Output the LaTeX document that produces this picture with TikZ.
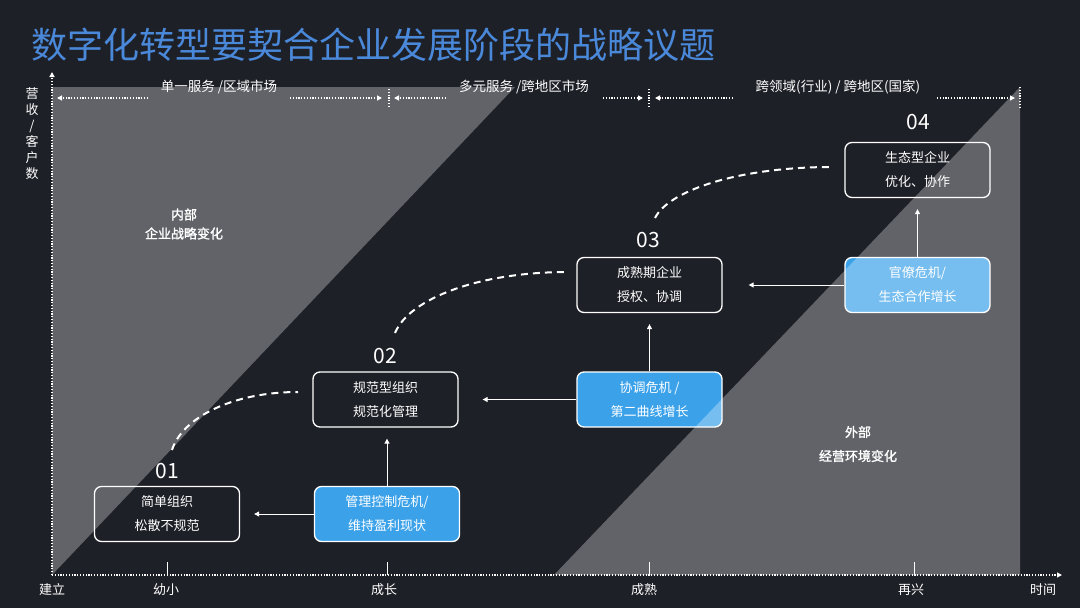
\documentclass[tikz,border=0pt]{standalone}
\usepackage{fontspec}
\setmainfont{Noto Sans CJK SC}
\newfontfamily\boldcjk{Noto Sans CJK SC}[FakeBold=1.5]
\usepackage{tikz}
\usetikzlibrary{positioning,arrows.meta,calc}
\definecolor{bgDark}{HTML}{1E2027}
\definecolor{titleBlue}{HTML}{4A88DA}
\definecolor{crisisBlue}{HTML}{3BA2EA}

\begin{document}
\begin{tikzpicture}[
  x=1pt, y=-1pt,
  every node/.style={text=white},
  stage/.style={rectangle, rounded corners=7pt, draw=white, line width=1.3pt,
                minimum width=145pt, minimum height=55pt, align=center,
                font=\fontsize{13}{24}\selectfont},
  crisis/.style={stage, fill=crisisBlue},
  stagenum/.style={font=\fontsize{21}{21}\selectfont},
  ticklabel/.style={font=\fontsize{13}{13}\selectfont},
  spanlabel/.style={font=\fontsize{13.5}{13.5}\selectfont},
  flow/.style={-{Triangle[length=5pt,width=5pt]}, white, line width=1pt},
  growth/.style={white, line width=2pt, dash pattern=on 7pt off 5pt},
  dotline/.style={white, line width=1.6pt, dash pattern=on 1.2pt off 1.6pt},
  dotflow/.style={dotline, -{Triangle[length=5pt,width=5pt]}},
  >={Triangle[length=5pt,width=5pt]}
]
  % background and frame
  \fill[bgDark] (0,0) rectangle (1080,608);
  \useasboundingbox (0,0) rectangle (1080,608);

  \node[anchor=west, text=titleBlue, font=\fontsize{36}{36}\selectfont] (title) at (28,45)
    {数字化转型要契合企业发展阶段的战略议题};

  % axes
  \coordinate (origin) at (52,575);
  \coordinate (ytop) at (52,72);
  \coordinate (xend) at (1062,575);
  \draw[dotflow] (origin) -- (ytop);
  \draw[dotflow] (origin) -- (xend);
  \node[font=\fontsize{13}{16}\selectfont, align=center] (ylabel) at (32,134)
    {营\\收\\/\\客\\户\\数};

  \foreach \x in {167,387,649,914}
    \draw[white, line width=1pt] (\x,575) -- (\x,562);
  \node[ticklabel] (t0) at (52,590) {建立};
  \node[ticklabel] (t1) at (166,590) {幼小};
  \node[ticklabel] (t2) at (384,590) {成长};
  \node[ticklabel] (t3) at (644,590) {成熟};
  \node[ticklabel] (t4) at (911,590) {再兴};
  \node[ticklabel] (t5) at (1043,590) {时间};

  % market spans
  \node[spanlabel] (span1) at (219,87) {单一服务 /区域市场};
  \node[spanlabel] (span2) at (524,87) {多元服务 /跨地区市场};
  \node[spanlabel] (span3) at (838,87) {跨领域(行业) / 跨地区(国家)};
  \draw[dotline] (389,89) -- (389,108);
  \draw[dotline] (649,89) -- (649,107);
  \draw[dotline] (1020,87) -- (1020,108);
  \draw[dotflow] (148,98) -- (57,98);
  \draw[dotflow] (290,98) -- (382,98);
  \draw[dotflow] (446,98) -- (394,98);
  \draw[dotflow] (603,98) -- (643,98);
  \draw[dotflow] (733,98) -- (655,98);
  \draw[dotflow] (937,98) -- (1015,98);

  % stages
  \node[stage] (simple) at (167,514) {简单组织\\松散不规范};
  \node[crisis] (control) at (387,514) {管理控制危机/\\维持盈利现状};
  \node[stage] (norm) at (385.5,399.5) {规范型组织\\规范化管理};
  \node[crisis] (coord) at (649.5,399.5) {协调危机 /\\第二曲线增长};
  \node[stage] (mature) at (649.5,285) {成熟期企业\\授权、协调};
  \node[crisis] (bureau) at (917.5,285) {官僚危机/\\生态合作增长};
  \node[stage] (eco) at (917.5,170) {生态型企业\\优化、协作};

  \node[stagenum] (n01) at (167,471) {01};
  \node[stagenum] (n02) at (385,356) {02};
  \node[stagenum] (n03) at (648,240) {03};
  \node[stagenum] (n04) at (918,122) {04};

  \draw[flow, shorten >=14pt] (control.west) -- (simple.east);
  \draw[flow, shorten >=11pt] (control.north) -- (control.north |- norm.south);
  \draw[flow, shorten >=24pt] (coord.west) -- (norm.east);
  \draw[flow, shorten >=11pt] (coord.north) -- (mature.south);
  \draw[flow, shorten >=26pt] (bureau.west) -- (mature.east);
  \draw[flow, shorten >=11pt] (bureau.north) -- (eco.south);

  % growth curves
  \coordinate (g1s) at (172,450);
  \coordinate (g1e) at (298,392);
  \coordinate (g2s) at (395,333);
  \coordinate (g2e) at (568,272);
  \coordinate (g3s) at (655,218);
  \coordinate (g3e) at (832,167);
  \draw[growth] (g1s) .. controls (182,418) and (232,392) .. (g1e);
  \draw[growth] (g2s) .. controls (409,299) and (478,272) .. (g2e);
  \draw[growth] (g3s) .. controls (669,190) and (740,167) .. (g3e);

  \node[font=\boldcjk\fontsize{13}{19}\selectfont, align=center] (inner) at (184,224)
    {内部\\企业战略变化};
  \node[font=\boldcjk\fontsize{13}{24}\selectfont, align=center] (outer) at (858,444)
    {外部\\经营环境变化};

  % internal / external shading on top
  \fill[white, fill opacity=0.3] (52,87) -- (515,87) -- (52,575) -- cycle;
  \fill[white, fill opacity=0.3] (554,575) -- (1020,87) -- (1020,575) -- cycle;
\end{tikzpicture}
\end{document}
